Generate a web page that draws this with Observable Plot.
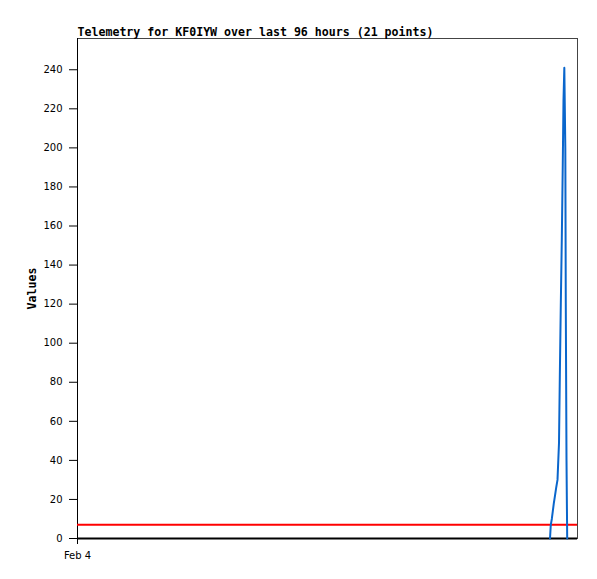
<!DOCTYPE html>
<html>
<head>
<meta charset="utf-8">
<script src="https://cdn.jsdelivr.net/npm/d3@7"></script>
<script src="https://cdn.jsdelivr.net/npm/@observablehq/plot@0.6"></script>
<style>
  html, body { margin: 0; padding: 0; background: #fff; }
</style>
</head>
<body>
<div id="chart"></div>
<script>
// Hours since Feb 4 00:00 (window of 96 hours)
const hours = [90.72, 90.87, 91.07, 91.26, 91.45, 91.68, 91.91, 92.16, 92.45, 92.61,
               92.79, 92.99, 93.16, 93.31, 93.47, 93.66, 93.75, 93.89, 94.02];
const values = [0, 7, 10, 14, 18, 22, 26, 30, 49, 84,
                119, 154, 189, 224, 241, 200, 121, 40, 0];
const thresholdValue = 7;
const yTicks = [0, 20, 40, 60, 80, 100, 120, 140, 160, 180, 200, 220, 240];
const xTickPos = [0];
const xTickLabels = ["Feb 4"];
const title = "Telemetry for KF0IYW over last 96 hours (21 points)";
const yLabel = "Values";

const series = hours.map((h, i) => ({h, v: values[i]}));

const chart = Plot.plot({
  width: 597,
  height: 579,
  marginLeft: 77,
  marginRight: 20,
  marginTop: 38,
  marginBottom: 41,
  style: {fontFamily: "DejaVu Sans", fontSize: "10px", background: "#fff", color: "#000"},
  x: {domain: [0, 96]},
  y: {domain: [0, 256]},
  marks: [
    Plot.axisY({ticks: yTicks, tickSize: 8, tickPadding: 7, label: null}),
    Plot.axisX({ticks: xTickPos, tickFormat: (d, i) => xTickLabels[i], tickSize: 6, tickPadding: 7, label: null}),
    Plot.frame({stroke: "#444", strokeWidth: 1}),
    Plot.ruleX([0], {stroke: "#000", strokeWidth: 1}),
    Plot.ruleY([thresholdValue], {stroke: "#ff0000", strokeWidth: 2}),
    Plot.ruleY([0], {stroke: "#000", strokeWidth: 2}),
    Plot.line(series, {x: "h", y: "v", stroke: "#0a66cc", strokeWidth: 2}),
    Plot.text([title], {frameAnchor: "top-left", textAnchor: "start", lineAnchor: "bottom", dy: -3,
      fontFamily: "DejaVu Sans Mono", fontWeight: "bold", fontSize: 11.6, fill: "#000"}),
    Plot.text([yLabel], {frameAnchor: "left", textAnchor: "middle", dx: -45, rotate: -90,
      fontFamily: "DejaVu Sans Mono", fontWeight: "bold", fontSize: 11.6, fill: "#000"})
  ]
});
document.getElementById("chart").appendChild(chart);
</script>
</body>
</html>
